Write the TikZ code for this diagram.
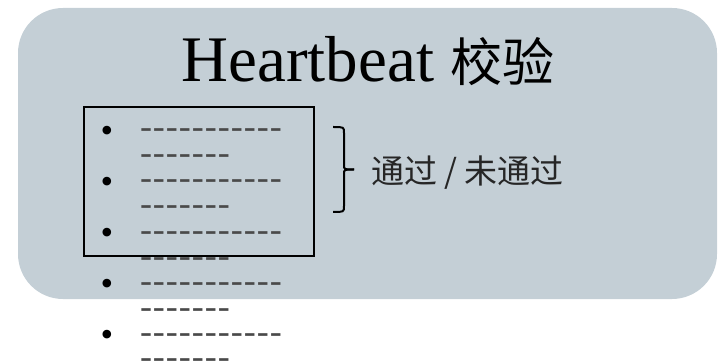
\documentclass[tikz,border=0pt]{standalone}
\usepackage{fontspec}
\setmainfont{Liberation Serif}
\newfontfamily\cjk{Noto Sans CJK SC}
\newfontfamily\dashfont{Liberation Serif}[LetterSpace=2.8]
\usepackage{tikz}
\usetikzlibrary{positioning,calc}
\definecolor{panelgray}{HTML}{C4CFD6}
\definecolor{dashgray}{HTML}{4A4A4A}

\begin{document}
\begin{tikzpicture}[
  x=1pt, y=-1pt,
  every node/.style={inner sep=0pt, outer sep=0pt},
  bulletdot/.style={anchor=center, font=\fontsize{36}{36}\selectfont},
  dashline/.style={anchor=base west, text=dashgray,
    text height=10pt, text depth=-6pt,
    font=\dashfont\fontsize{36}{36}\selectfont},
  ]
  \useasboundingbox (0,0) rectangle (722,363);
  % background panel
  \fill[panelgray, rounded corners=45pt] (18,8) rectangle (717,299);

  \node[anchor=base, font=\fontsize{65}{65}\selectfont] (title) at (368,82)
    {Heartbeat {\cjk\fontsize{52}{52}\selectfont 校验}};

  % list items
  \node[bulletdot] (b1) at (107,134) {\textbullet};
  \node[dashline] (d1a) at (140,139) {-----------};
  \node[dashline] (d1b) at (140,165) {-------};
  \node[bulletdot] (b2) at (107,185) {\textbullet};
  \node[dashline] (d2a) at (140,190) {-----------};
  \node[dashline] (d2b) at (140,216) {-------};
  \node[bulletdot] (b3) at (107,236) {\textbullet};
  \node[dashline] (d3a) at (140,241) {-----------};
  \node[dashline] (d3b) at (140,267) {-------};
  \node[bulletdot] (b4) at (107,287) {\textbullet};
  \node[dashline] (d4a) at (140,292) {-----------};
  \node[dashline] (d4b) at (140,318) {-------};
  \node[bulletdot] (b5) at (107,338) {\textbullet};
  \node[dashline] (d5a) at (140,343) {-----------};
  \node[dashline] (d5b) at (140,368) {-------};

  % frame around the first three items
  \node[draw, line width=2pt, minimum width=230pt, minimum height=149pt]
    (listbox) at (198.5,181.5) {};

  % brace and result
  \coordinate (bt) at (333,127);
  \coordinate (bb) at (333,212);
  \coordinate (tip) at (354,169.5);
  \draw[line width=2pt]
    (bt) .. controls (344,127) .. (344,133) -- (344,165)
    .. controls (344,169.5) .. (tip);
  \draw[line width=2pt]
    (bb) .. controls (344,212) .. (344,206) -- (344,174)
    .. controls (344,169.5) .. (tip);
  \node[anchor=west, font=\cjk\fontsize{33}{33}\selectfont, text=black!85]
    (result) at (371,173) {通过 / 未通过};
\end{tikzpicture}
\end{document}
